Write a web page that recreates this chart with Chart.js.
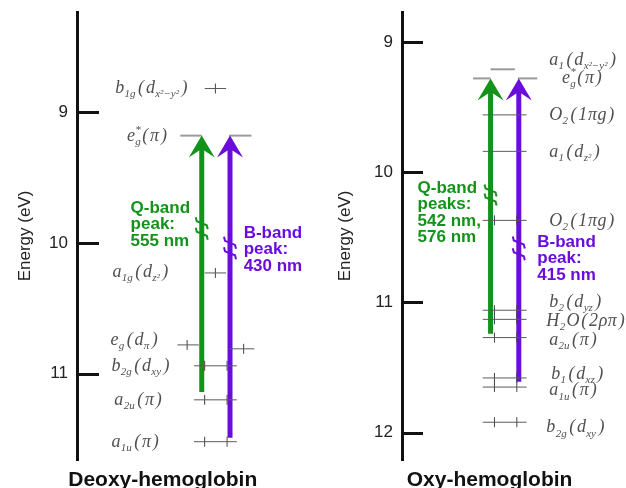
<!DOCTYPE html>
<html>
<head>
<meta charset="utf-8">
<title>Hemoglobin energy levels</title>
<script src="https://cdn.jsdelivr.net/npm/chart.js@4.4.1/dist/chart.umd.min.js"></script>
<style>
  html, body { margin: 0; padding: 0; background: #fff; }
  #wrap { position: relative; width: 626px; height: 488px; overflow: hidden; }
  #wrap canvas { position: absolute; top: 0; }
  #deoxy { left: 0; }
  #oxy { left: 313px; }
</style>
</head>
<body>
<div id="wrap">
  <canvas id="deoxy" width="313" height="488"></canvas>
  <canvas id="oxy" width="313" height="488"></canvas>
</div>
<script>
// Energy levels (eV)
const deoxyTicks = [9, 10, 11];
const deoxyNames = ["b_{1g}(d_{x²−y²})", "e^{*}_{g}(π)", "a_{1g}(d_{z²})", "e_{g}(d_{π})", "b_{2g}(d_{xy})", "a_{2u}(π)", "a_{1u}(π)"];
// one entry per drawn level bar (index into the names above)
const deoxyBarLevel = [0, 1, 1, 2, 3, 3, 4, 5, 6];
const deoxyBarEnergy = [8.82, 9.18, 9.18, 10.23, 10.78, 10.81, 10.94, 11.20, 11.52];
const deoxyBands = ["Q-band", "B-band"];
const deoxyPeaks = [[555], [430]];
const deoxyArrowFrom = [11.14, 11.49];
const deoxyArrowTo = [9.18, 9.18];

const oxyTicks = [9, 10, 11, 12];
const oxyNames = ["a_{1}(d_{x²−y²})", "e^{*}_{g}(π)", "O_{2}(1πg)", "a_{1}(d_{z²})", "O_{2}(1πg)", "b_{2}(d_{yz})", "H_{2}O(2ρπ)", "a_{2u}(π)", "b_{1}(d_{xz})", "a_{1u}(π)", "b_{2g}(d_{xy})"];
const oxyBarLevel = [0, 1, 1, 2, 3, 4, 5, 6, 7, 8, 9, 10];
const oxyBarEnergy = [9.21, 9.28, 9.28, 9.56, 9.84, 10.37, 11.06, 11.13, 11.27, 11.58, 11.65, 11.92];
const oxyBands = ["Q-band", "B-band"];
const oxyPeaks = [[542, 576], [415]];
const oxyArrowFrom = [11.24, 11.61];
const oxyArrowTo = [9.28, 9.28];

// layout (x in page pixels, label anchors in eV)
const bandColors = ["#13931a", "#6a0cdc"];
const sans = '"Liberation Sans", Arial, Helvetica, sans-serif';
const serif = '"Liberation Serif", "Times New Roman", serif';

const deoxyLayout = {
  canvasLeft: 0, axisX: 77, yMin: 8.235, yMax: 11.66, tickLen: 22, titlePad: 15,
  barX: [[208, 230], [183, 205], [233, 256], [208, 230], [180, 202], [233, 259], [197, 241], [197, 241], [197, 241]],
  barTicks: [[219], [], [], [219], [190], [248], [208, 231], [208, 231], [208, 231]],
  barGray: [false, true, true, false, false, false, false, false, false],
  labelX: [116, 128, 113, 111, 112, 115, 112],
  labelE: [8.816, 9.184, 10.224, 10.744, 10.943, 11.204, 11.526],
  arrowX: [205, 234],
  breaks: [[9.85, 9.93], [10.0, 10.08]],
  bandX: [132, 248], bandE: [9.735, 9.926],
  heading: "Deoxy-hemoglobin", headingX: 165
};

const oxyLayout = {
  canvasLeft: 313, axisX: 402, yMin: 8.77, yMax: 12.21, tickLen: 21, titlePad: 22,
  barX: [[493, 518], [475, 493], [521, 541], [485, 530], [485, 530], [485, 530], [485, 530], [485, 530], [485, 530], [485, 530], [485, 530], [485, 530]],
  barTicks: [[], [], [], [], [], [497, 520], [497, 520], [497, 520], [497, 520], [497, 520], [497, 520], [497, 520]],
  barGray: [true, true, true, false, false, false, false, false, false, false, false, false],
  labelX: [553, 566, 553, 553, 553, 553, 550, 553, 555, 553, 550],
  labelE: [9.138, 9.28, 9.56, 9.844, 10.374, 10.995, 11.141, 11.287, 11.548, 11.678, 11.962],
  arrowX: [493, 522],
  breaks: [[10.14, 10.21], [10.54, 10.63]],
  bandX: [418, 541], bandE: [10.12, 10.535],
  heading: "Oxy-hemoglobin", headingX: 492
};

// split "a_{1g}(d_{z²})" into plain / sub / sup runs
function parseRich(s) {
  const parts = [];
  let i = 0;
  while (i < s.length) {
    if ((s[i] === "_" || s[i] === "^") && s[i + 1] === "{") {
      const end = s.indexOf("}", i);
      parts.push({ k: s[i], t: s.slice(i + 2, end) });
      i = end + 1;
    } else {
      let j = i;
      while (j < s.length && !((s[j] === "_" || s[j] === "^") && s[j + 1] === "{")) j++;
      parts.push({ k: "", t: s.slice(i, j) });
      i = j;
    }
  }
  return parts;
}

// main-size run, with a little air round the brackets like the original
function drawRun(ctx, t, x, y) {
  let cx = x;
  for (const ch of t) {
    const pad = ch === "(" || ch === ")" ? 1.5 : 0.3;
    cx += pad;
    ctx.fillText(ch, cx, y);
    cx += ctx.measureText(ch).width + pad;
  }
  return cx - x;
}

function drawRich(ctx, s, x, y, size) {
  let cx = x, prev = null;
  for (const p of parseRich(s)) {
    if (!p.k) {
      ctx.font = `italic ${size}px ${serif}`;
      cx += drawRun(ctx, p.t, cx, y);
      prev = null;
      continue;
    }
    const sz = Math.round(size * 0.6);
    ctx.font = `italic ${sz}px ${serif}`;
    const w = ctx.measureText(p.t).width;
    const dy = p.k === "_" ? size * 0.33 : -size * 0.36;
    if (p.k === "_" && prev && prev.k === "^") {
      // stacked e^*_g
      ctx.fillText(p.t, prev.x, y + dy);
      cx = prev.x + Math.max(prev.w, w);
      prev = null;
    } else {
      ctx.fillText(p.t, cx, y + dy);
      prev = { k: p.k, x: cx, w };
      cx += w + 1;
    }
  }
}

function makePanel(id, names, barLevel, barEnergy, ticks, bands, peaks, arrowFrom, arrowTo, L) {
  const datasets = [];

  barEnergy.forEach((e, i) => {
    const [x1, x2] = L.barX[i];
    datasets.push({
      data: [{ x: x1, y: e }, { x: x2, y: e }],
      showLine: true,
      borderColor: L.barGray[i] ? "#9a9a9a" : "#5a5a5a",
      borderWidth: L.barGray[i] ? 2 : 1,
      pointRadius: 0,
      order: 0
    });
    if (L.barTicks[i].length) {
      datasets.push({
        data: L.barTicks[i].map(x => ({ x, y: e })),
        pointStyle: "line",
        pointRadius: 5,
        pointRotation: 90,
        pointBorderColor: "#444",
        pointBorderWidth: 1,
        order: 0
      });
    }
  });

  arrowFrom.forEach((from, i) => {
    datasets.push({
      data: [{ x: L.arrowX[i], y: from }, { x: L.arrowX[i], y: arrowTo[i] }],
      showLine: true,
      borderColor: bandColors[i],
      borderWidth: 5,
      borderCapStyle: "butt",
      pointRadius: 0,
      order: 1,
      arrow: i
    });
  });

  const decor = {
    id: "decor",
    afterDatasetsUpdate(chart) {
      // pull the shaft top down so the arrowhead keeps a sharp tip
      chart.data.datasets.forEach((ds, i) => {
        if (ds.arrow === undefined) return;
        const pt = chart.getDatasetMeta(i).data[1];
        pt.y = chart.scales.y.getPixelForValue(ds.data[1].y) + 12;
      });
    },
    afterDatasetsDraw(chart) {
      const { ctx, chartArea, scales: { x, y } } = chart;
      ctx.save();
      // inward axis ticks
      ctx.strokeStyle = "#111";
      ctx.lineWidth = 3;
      ticks.forEach(v => {
        const py = Math.round(y.getPixelForValue(v)) + 0.5;
        ctx.beginPath();
        ctx.moveTo(chartArea.left, py);
        ctx.lineTo(chartArea.left + L.tickLen, py);
        ctx.stroke();
      });
      chart.data.datasets.forEach(ds => {
        if (ds.arrow === undefined) return;
        const i = ds.arrow;
        const px = x.getPixelForValue(ds.data[1].x);
        const tip = y.getPixelForValue(ds.data[1].y);
        ctx.fillStyle = bandColors[i];
        ctx.beginPath();
        ctx.moveTo(px, tip);
        ctx.lineTo(px + 13, tip + 22);
        ctx.lineTo(px + 2.5, tip + 15);
        ctx.lineTo(px - 2.5, tip + 15);
        ctx.lineTo(px - 13, tip + 22);
        ctx.closePath();
        ctx.fill();
        // break marks on the shaft
        ctx.strokeStyle = bandColors[i];
        ctx.lineWidth = 2;
        L.breaks[i].forEach(e => {
          const py = y.getPixelForValue(e);
          ctx.beginPath();
          ctx.moveTo(px - 6, py - 6);
          ctx.lineTo(px - 5, py - 2);
          ctx.lineTo(px + 5, py + 2);
          ctx.lineTo(px + 6, py + 6);
          ctx.stroke();
        });
      });
      ctx.restore();
    },
    afterDraw(chart) {
      const { ctx, chartArea, scales: { x, y } } = chart;
      ctx.save();
      ctx.textBaseline = "middle";
      ctx.textAlign = "left";
      // level labels
      ctx.fillStyle = "#505050";
      names.forEach((n, i) => {
        drawRich(ctx, n, x.getPixelForValue(L.labelX[i]), y.getPixelForValue(L.labelE[i]), 18);
      });
      // band annotations
      ctx.font = `bold 17px ${sans}`;
      bands.forEach((b, i) => {
        const nm = peaks[i];
        const lines = [b, nm.length > 1 ? "peaks:" : "peak:"]
          .concat(nm.map((v, k) => v + " nm" + (k < nm.length - 1 ? "," : "")));
        ctx.fillStyle = bandColors[i];
        const bx = x.getPixelForValue(L.bandX[i]);
        const by = y.getPixelForValue(L.bandE[i]);
        lines.forEach((t, k) => ctx.fillText(t, bx, by + k * 16.5));
      });
      // panel heading
      ctx.fillStyle = "#111";
      ctx.textAlign = "center";
      ctx.font = `bold 21px ${sans}`;
      ctx.fillText(L.heading, x.getPixelForValue(L.headingX), chartArea.bottom + 20);
      ctx.restore();
    }
  };

  return new Chart(document.getElementById(id), {
    type: "scatter",
    data: { datasets },
    options: {
      responsive: false,
      animation: false,
      devicePixelRatio: 1,
      events: [],
      layout: { padding: { top: 12, bottom: 28, left: 0, right: 0 } },
      plugins: { legend: { display: false }, tooltip: { enabled: false } },
      scales: {
        x: { type: "linear", display: false, min: L.axisX, max: L.canvasLeft + 313 },
        y: {
          type: "linear",
          reverse: true,
          min: L.yMin,
          max: L.yMax,
          afterBuildTicks: s => { s.ticks = ticks.map(v => ({ value: v })); },
          afterFit: s => {
            s.width = L.axisX - L.canvasLeft;
            s.paddingTop = 0;
            s.paddingBottom = 0;
          },
          ticks: { color: "#222", font: { family: sans, size: 17 }, padding: 9 },
          grid: { display: false, drawTicks: false },
          border: { display: true, color: "#111", width: 3 },
          title: {
            display: true,
            text: "Energy (eV)",
            color: "#222",
            font: { family: sans, size: 17 },
            padding: { top: L.titlePad, bottom: 0 }
          }
        }
      }
    },
    plugins: [decor]
  });
}

makePanel("deoxy", deoxyNames, deoxyBarLevel, deoxyBarEnergy, deoxyTicks, deoxyBands, deoxyPeaks, deoxyArrowFrom, deoxyArrowTo, deoxyLayout);
makePanel("oxy", oxyNames, oxyBarLevel, oxyBarEnergy, oxyTicks, oxyBands, oxyPeaks, oxyArrowFrom, oxyArrowTo, oxyLayout);
</script>
</body>
</html>
